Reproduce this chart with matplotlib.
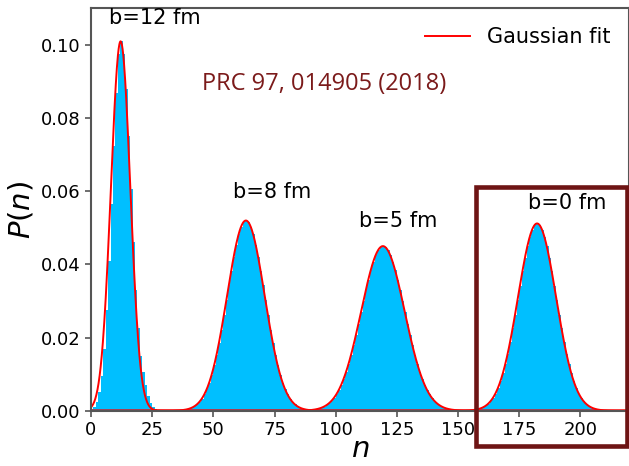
import numpy as np
import matplotlib.pyplot as plt
from matplotlib.patches import Rectangle

# histogram P(n), one list per impact parameter (bins [n, n+1))
n_b12 = np.arange(0, 28)
p_b12 = [0.0004, 0.0010, 0.0024, 0.0050, 0.0095, 0.0170, 0.0275, 0.0410, 0.0565, 0.0725,
         0.0870, 0.0975, 0.1010, 0.0975, 0.0880, 0.0750, 0.0605, 0.0460, 0.0330, 0.0225,
         0.0150, 0.0105, 0.0070, 0.0040, 0.0022, 0.0011, 0.0005, 0.0002]

n_b8 = np.arange(35, 92)
p_b8 = [0.0001, 0.0001, 0.0002, 0.0003, 0.0004, 0.0006, 0.0009, 0.0012, 0.0017, 0.0024,
        0.0033, 0.0045, 0.0059, 0.0077, 0.0098, 0.0124, 0.0153, 0.0186, 0.0222, 0.0261,
        0.0302, 0.0343, 0.0383, 0.0421, 0.0454, 0.0482, 0.0503, 0.0516, 0.0520, 0.0516,
        0.0503, 0.0482, 0.0454, 0.0421, 0.0383, 0.0343, 0.0302, 0.0261, 0.0222, 0.0186,
        0.0153, 0.0124, 0.0098, 0.0077, 0.0059, 0.0045, 0.0033, 0.0024, 0.0017, 0.0012,
        0.0009, 0.0006, 0.0004, 0.0003, 0.0002, 0.0001, 0.0001]

n_b5 = np.arange(88, 151)
p_b5 = [0.0001, 0.00015, 0.0002, 0.0003, 0.0004, 0.0006, 0.0008, 0.0011, 0.0015, 0.0021,
        0.0027, 0.0035, 0.0045, 0.0057, 0.0071, 0.0088, 0.0107, 0.0129, 0.0153, 0.0180,
        0.0208, 0.0238, 0.0269, 0.0299, 0.0329, 0.0358, 0.0384, 0.0406, 0.0425, 0.0439,
        0.0447, 0.0450, 0.0447, 0.0439, 0.0425, 0.0406, 0.0384, 0.0358, 0.0329, 0.0299,
        0.0269, 0.0238, 0.0208, 0.0180, 0.0153, 0.0129, 0.0107, 0.0088, 0.0071, 0.0057,
        0.0045, 0.0035, 0.0027, 0.0021, 0.0015, 0.0011, 0.0008, 0.0006, 0.0004, 0.0003,
        0.0002, 0.00015, 0.0001]

n_b0 = np.arange(155, 210)
p_b0 = [0.0001, 0.0002, 0.0003, 0.0004, 0.0007, 0.0010, 0.0014, 0.0019, 0.0026, 0.0035,
        0.0047, 0.0062, 0.0080, 0.0102, 0.0127, 0.0156, 0.0189, 0.0225, 0.0263, 0.0302,
        0.0342, 0.0381, 0.0417, 0.0449, 0.0475, 0.0495, 0.0508, 0.0512, 0.0508, 0.0495,
        0.0475, 0.0449, 0.0417, 0.0381, 0.0342, 0.0302, 0.0263, 0.0225, 0.0189, 0.0156,
        0.0127, 0.0102, 0.0080, 0.0062, 0.0047, 0.0035, 0.0026, 0.0019, 0.0014, 0.0010,
        0.0007, 0.0004, 0.0003, 0.0002, 0.0001]

# gaussian fit parameters (mean, sigma, height)
fit_mu = [12.1, 63.3, 119.3, 182.3]
fit_sigma = [3.95, 7.67, 8.86, 7.79]
fit_amp = [0.101, 0.052, 0.045, 0.0512]

b_labels = ['b=12 fm', 'b=8 fm', 'b=5 fm', 'b=0 fm']

fig = plt.figure(figsize=(6.29, 4.66), dpi=100)
ax = fig.add_axes([91/629, 55.3/466, 538.3/629, 402.3/466])

for n, p in [(n_b12, p_b12), (n_b8, p_b8), (n_b5, p_b5), (n_b0, p_b0)]:
    ax.bar(n, p, width=1.0, align='edge', color='#00bfff', edgecolor='none')

x = np.linspace(0, 220, 1500)
for i in range(4):
    y = fit_amp[i]*np.exp(-(x - fit_mu[i])**2/(2*fit_sigma[i]**2))
    ax.plot(x, y, color='red', lw=1.4, label='Gaussian fit' if i == 0 else None)

ax.set_xlim(0, 220)
ax.set_ylim(0, 0.11)
ax.set_xticks([0, 25, 50, 75, 100, 125, 150, 175, 200])
ax.set_yticks([0.0, 0.02, 0.04, 0.06, 0.08, 0.10])
ax.set_yticklabels(['0.00', '0.02', '0.04', '0.06', '0.08', '0.10'])
ax.tick_params(labelsize=13, color='#555555', width=1.2, length=4)
for s in ax.spines.values():
    s.set_color('#555555')
    s.set_linewidth(1.5)

ax.set_xlabel('$n$', fontsize=21, labelpad=-3)
ax.set_ylabel('$P(n)$', fontsize=21, labelpad=4)

ax.text(26.2, 0.1074, b_labels[0], fontsize=15, ha='center', va='center')
ax.text(74, 0.0597, b_labels[1], fontsize=15, ha='center', va='center')
ax.text(125.5, 0.0518, b_labels[2], fontsize=15, ha='center', va='center')
ax.text(194.5, 0.0567, b_labels[3], fontsize=15, ha='center', va='center')

ax.text(95.2, 0.0894, 'PRC 97, 014905 (2018)', fontsize=17, family='Open Sans',
        color='#7b1a1a', ha='center', va='center')

ax.legend(loc='upper right', frameon=False, fontsize=15, handlelength=2.2)

box = Rectangle((157.3, -0.0097), 61.7, 0.0709, fill=False, edgecolor='#6e1414',
                lw=3.3, clip_on=False, zorder=5)
ax.add_patch(box)

fig.savefig('out.png', dpi=100)
